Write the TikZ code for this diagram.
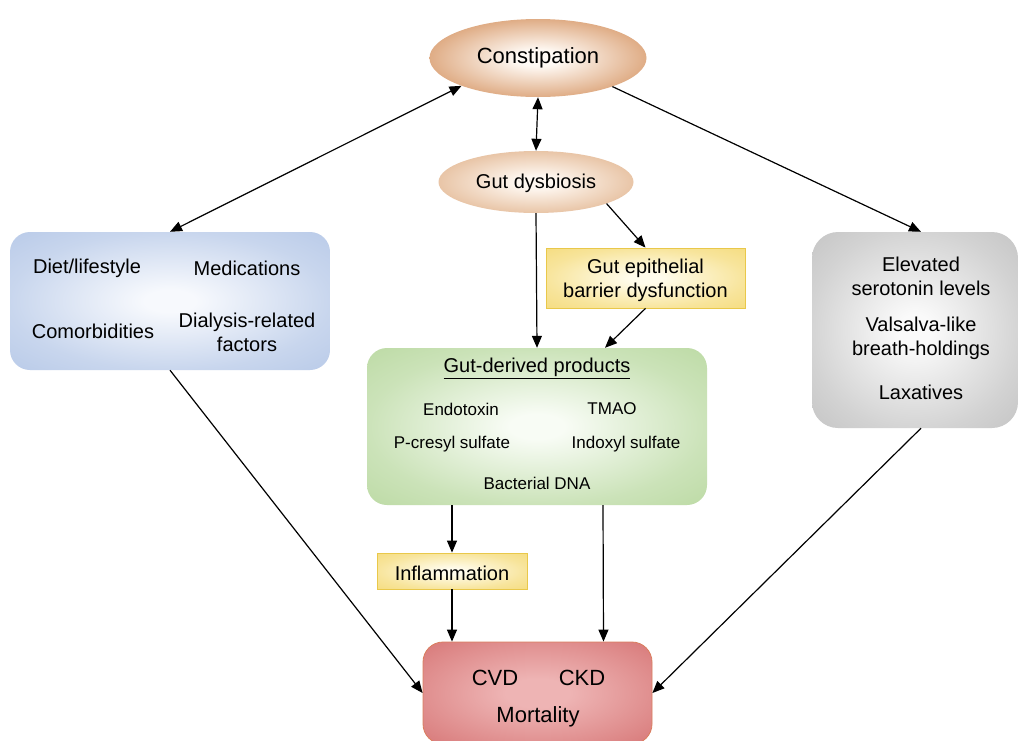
\documentclass[tikz,border=0pt]{standalone}
\usepackage{fontspec}
\setmainfont{Liberation Sans}
\usetikzlibrary{arrows.meta,calc,shapes.geometric}
\definecolor{constout}{HTML}{C46A26}
\definecolor{constin}{HTML}{FFFAF5}
\colorlet{constmid}{constout!62!constin}
\definecolor{dysout}{HTML}{D69A68}
\definecolor{dysin}{HTML}{FEF7F0}
\colorlet{dysmid}{dysout!62!dysin}
\definecolor{blueout}{HTML}{AFC3E5}
\definecolor{bluein}{HTML}{F7F9FD}
\colorlet{bluemid}{blueout!65!bluein}
\definecolor{grayout}{HTML}{B8B8B8}
\definecolor{grayin}{HTML}{FAFAFA}
\colorlet{graymid}{grayout!60!grayin}
\definecolor{greenout}{HTML}{B3D598}
\definecolor{greenin}{HTML}{F8FCF5}
\colorlet{greenmid}{greenout!65!greenin}
\definecolor{yelout}{HTML}{F3D66A}
\definecolor{yelin}{HTML}{FFFCEC}
\colorlet{yelmid}{yelout!62!yelin}
\definecolor{yelline}{HTML}{E9C84A}
\definecolor{redout}{HTML}{D06565}
\definecolor{redin}{HTML}{EEB4B4}
\colorlet{redmid}{redout!55!redin}
\definecolor{redline}{HTML}{DA7E5E}
\pgfdeclareradialshading{shconst}{\pgfpointorigin}{color(0bp)=(constin); color(5bp)=(constin); color(28bp)=(constmid); color(47bp)=(constout); color(50bp)=(constout)}
\pgfdeclareradialshading{shdys}{\pgfpointorigin}{color(0bp)=(dysin); color(5bp)=(dysin); color(28bp)=(dysmid); color(47bp)=(dysout); color(50bp)=(dysout)}
\pgfdeclareradialshading{shblue}{\pgfpointorigin}{color(0bp)=(bluein); color(4bp)=(bluein); color(25bp)=(bluemid); color(43bp)=(blueout); color(50bp)=(blueout)}
\pgfdeclareradialshading{shgray}{\pgfpointorigin}{color(0bp)=(grayin); color(4bp)=(grayin); color(26bp)=(graymid); color(45bp)=(grayout); color(50bp)=(grayout)}
\pgfdeclareradialshading{shgreen}{\pgfpointorigin}{color(0bp)=(greenin); color(4bp)=(greenin); color(25bp)=(greenmid); color(43bp)=(greenout); color(50bp)=(greenout)}
\pgfdeclareradialshading{shyel}{\pgfpointorigin}{color(0bp)=(yelin); color(4bp)=(yelin); color(25bp)=(yelmid); color(45bp)=(yelout); color(50bp)=(yelout)}
\pgfdeclareradialshading{shred}{\pgfpointorigin}{color(0bp)=(redin); color(7bp)=(redin); color(28bp)=(redmid); color(45bp)=(redout); color(50bp)=(redout)}
\begin{document}
\begin{tikzpicture}[x=1pt,y=-1pt,
  oval/.style={ellipse, inner sep=0pt},
  box/.style={rectangle, rounded corners=20pt, inner sep=0pt},
  ybox/.style={rectangle, inner sep=0pt, shading=shyel, draw=yelline, line width=0.8pt},
  txt/.style={font=\fontsize{20}{24}\selectfont, align=center, inner sep=0pt},
  stxt/.style={font=\fontsize{17}{20}\selectfont, align=center, inner sep=0pt},
  btxt/.style={font=\fontsize{22}{26}\selectfont, align=center, inner sep=0pt},
  arr/.style={-{Triangle[length=12pt,width=10pt]}, line width=1.2pt},
  darr/.style={{Triangle[length=12pt,width=10pt]}-{Triangle[length=12pt,width=10pt]}, line width=1.2pt}]
\useasboundingbox (0,0) rectangle (1020,740);
\fill[white] (0,0) rectangle (1020,740);

% shapes
\node[oval, shading=shconst, minimum width=217pt, minimum height=78pt] (const) at (538,58) {};
\node[oval, shading=shdys, minimum width=195pt, minimum height=62pt] (dys) at (536,182) {};
\node[box, shading=shblue, minimum width=320pt, minimum height=138pt] (left) at (170,301) {};
\node[box, shading=shgray, minimum width=206pt, minimum height=196pt, rounded corners=26pt] (right) at (915,330) {};
\node[ybox, minimum width=199pt, minimum height=60pt] (epi) at (645.5,278) {};
\node[box, shading=shgreen, minimum width=340pt, minimum height=157pt] (green) at (537,426.5) {};
\node[ybox, minimum width=150pt, minimum height=36pt] (infl) at (452,571) {};
\node[box, shading=shred, minimum width=229pt, minimum height=102pt, draw=redline, line width=0.8pt] (red) at (537.5,693) {};

% texts
\node[btxt] (tconst) at (538,58) {Constipation};
\node[txt] (tdys) at (536,183) {Gut dysbiosis};
\node[txt] (tdiet) at (87,268) {Diet/lifestyle};
\node[txt] (tmed) at (247,268) {Medications};
\node[txt] (tcom) at (93,331) {Comorbidities};
\node[txt] (tdia) at (247,332) {Dialysis-related\\factors};
\node[txt] (tsero) at (921,276) {Elevated\\serotonin levels};
\node[txt] (tvals) at (921,338) {Valsalva-like\\breath-holdings};
\node[txt] (tlax) at (921,392) {Laxatives};
\node[txt] (tepi) at (645.5,280) {Gut epithelial\\barrier dysfunction};
\node[txt] (tgdp) at (537,368) {\underline{Gut-derived products}};
\node[stxt] (tendo) at (461,409) {Endotoxin};
\node[stxt] (ttmao) at (612,409) {TMAO};
\node[stxt] (tpcs) at (452,444) {P-cresyl sulfate};
\node[stxt] (tind) at (626,444) {Indoxyl sulfate};
\node[stxt] (tdna) at (537,483) {Bacterial DNA};
\node[txt] (tinfl) at (452,573) {Inflammation};
\node[btxt] (tcvd) at (495,678) {CVD};
\node[btxt] (tckd) at (582,678) {CKD};
\node[btxt] (tmort) at (538,717) {Mortality};

% connectors
\draw[darr] (const.200) -- (left.north);
\draw[arr] (const.339) -- ($(right.north)+(6,0)$);
\draw[darr] (const.south) -- (dys.north);
\draw[arr] (dys.south) -- (green.north);
\draw[arr] (dys.343) -- (epi.north);
\draw[arr] (epi.south) -- ($(green.north)+(68,0)$);
\draw[arr] (green.south -| infl.north) -- (infl.north);
\draw[arr] (infl.south) -- (red.north -| infl.south);
\draw[arr] ($(green.south)+(66,0)$) -- ($(red.north)+(66,0)$);
\draw[arr] (left.south) -- (red.west);
\draw[arr] ($(right.south)+(6,0)$) -- (red.east);
\end{tikzpicture}
\end{document}
